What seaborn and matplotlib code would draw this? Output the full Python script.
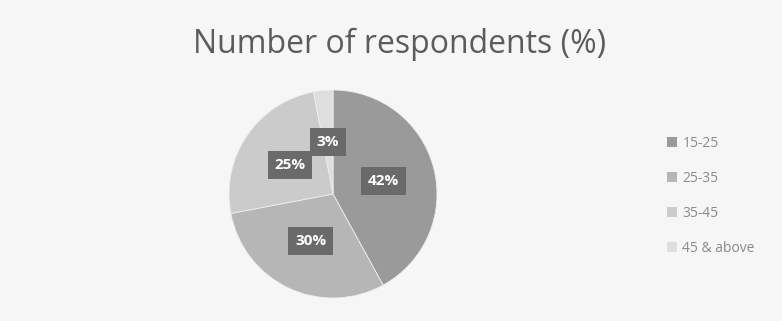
import matplotlib
matplotlib.use("Agg")
import matplotlib.pyplot as plt
import seaborn as sns
from matplotlib.patches import Patch

# Respondent age groups and their shares (%)
age_groups = ["15-25", "25-35", "35-45", "45 & above"]
shares = [42, 30, 25, 3]
title_text = "Number of respondents (%)"

sns.set_theme(style="white")
plt.rcParams["font.family"] = ["Open Sans", "DejaVu Sans"]

slice_colors = ["#9a9a9a", "#b6b6b6", "#cbcbcb", "#dedede"]

fig = plt.figure(figsize=(7.82, 3.21), dpi=100)
fig.patch.set_facecolor("#f6f6f6")

W, H = 782, 321
cx, cy, r = 333, 194, 104
ax = fig.add_axes([(cx - r) / W, (H - cy - r) / H, 2 * r / W, 2 * r / H])
ax.set_facecolor("none")

wedges, texts, autotexts = ax.pie(
    shares,
    colors=slice_colors,
    startangle=90,
    counterclock=False,
    radius=1,
    autopct=lambda p: f"{p:.0f}%",
    pctdistance=0.5,
    wedgeprops=dict(linewidth=0.6, edgecolor="#eeeeee"),
    textprops=dict(color="white", fontsize=11, fontweight="bold"),
)
for t in autotexts:
    t.set_bbox(dict(boxstyle="square,pad=0.45", facecolor="#6a6a6a", edgecolor="none"))

ax.set_xlim(-1, 1)
ax.set_ylim(-1, 1)
ax.set_aspect("equal")
ax.axis("off")

fig.text(400 / W, 1 - 53 / H, title_text, ha="center", va="baseline",
         fontsize=23, color="#5c5c5c")

handles = [Patch(facecolor=c, edgecolor="none") for c in slice_colors]
leg = fig.legend(
    handles, age_groups,
    loc="center left",
    bbox_to_anchor=(654 / W, 1 - 196 / H),
    frameon=False,
    fontsize=10,
    labelcolor="#8a8a8a",
    handlelength=0.75,
    handleheight=0.7,
    handletextpad=0.4,
    labelspacing=1.45,
)

fig.savefig("out.png", dpi=100, facecolor=fig.get_facecolor())
